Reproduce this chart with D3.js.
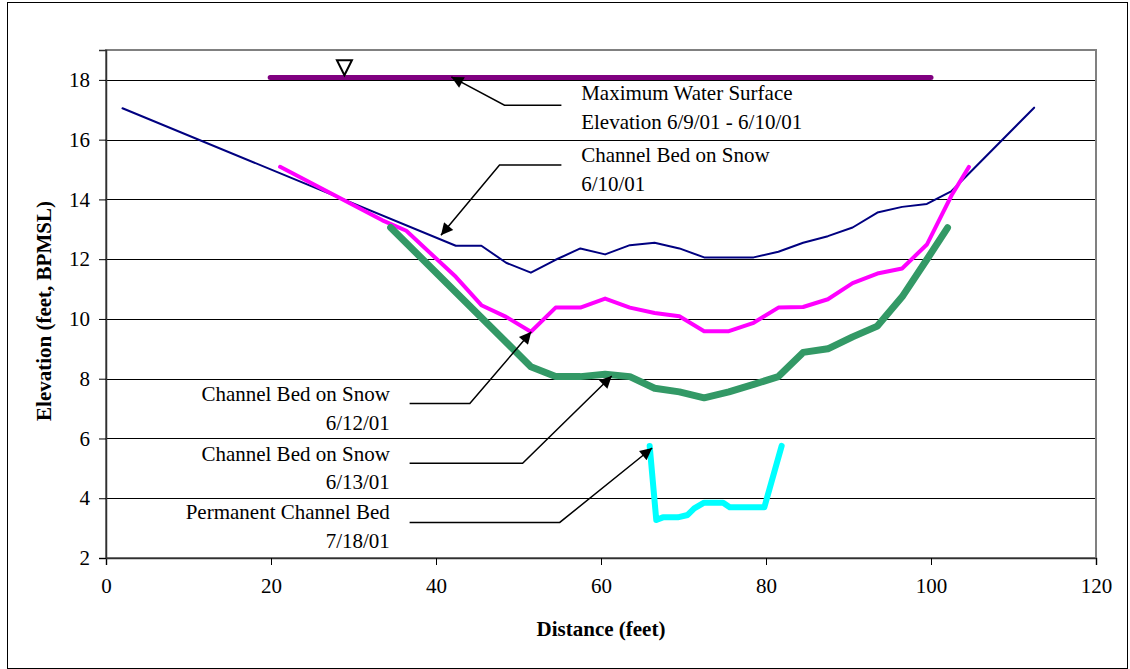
<!DOCTYPE html>
<html>
<head>
<meta charset="utf-8">
<script src="https://cdn.jsdelivr.net/npm/d3@7"></script>
<style>
  body { margin: 0; background: #fff; }
  svg { display: block; font-family: "Liberation Serif", "Times New Roman", serif; }
</style>
</head>
<body>
<div id="chart"></div>
<script>
// channel cross section data (distance in feet, elevation in feet BPMSL)
var distSnow0610 = [2, 42.4, 45.5, 48.5, 51.5, 54.5, 57.5, 60.5, 63.5, 66.5, 69.5, 72.5, 75.5, 78.5, 81.5, 84.5, 87.5, 90.5, 93.5, 96.5, 99.5, 102.5, 112.5];
var elevSnow0610 = [17.05, 12.45, 12.45, 11.88, 11.55, 11.98, 12.36, 12.16, 12.47, 12.55, 12.36, 12.06, 12.06, 12.06, 12.25, 12.55, 12.77, 13.06, 13.56, 13.75, 13.85, 14.28, 17.07];

var distSnow0612 = [21.1, 33.5, 36.4, 42.4, 45.5, 48.5, 51.5, 54.5, 57.5, 60.5, 63.5, 66.5, 69.5, 72.5, 75.5, 78.5, 81.5, 84.5, 87.5, 90.5, 93.5, 96.5, 99.5, 102.5, 104.6];
var elevSnow0612 = [15.09, 13.3, 12.95, 11.41, 10.46, 10.07, 9.57, 10.38, 10.38, 10.68, 10.38, 10.2, 10.09, 9.59, 9.59, 9.87, 10.38, 10.4, 10.66, 11.2, 11.52, 11.69, 12.49, 14.14, 15.09];

var distSnow0613 = [34.5, 51.5, 54.5, 57.5, 60.5, 63.5, 66.5, 69.5, 72.5, 75.5, 78.5, 81.5, 84.5, 87.5, 90.5, 93.5, 96.5, 99.5, 102];
var elevSnow0613 = [13.06, 8.4, 8.07, 8.07, 8.15, 8.07, 7.68, 7.56, 7.36, 7.56, 7.81, 8.07, 8.88, 9.0, 9.4, 9.76, 10.74, 11.99, 13.05];

var distPermanent = [65.9, 66.7, 67.5, 69.3, 70.5, 71.3, 72.5, 74.8, 75.6, 79.8, 81.9];
var elevPermanent = [5.75, 3.27, 3.36, 3.36, 3.44, 3.66, 3.85, 3.85, 3.7, 3.7, 5.75];

var distWaterSurface = [19.9, 100];
var elevWaterSurface = [18.08, 18.08];

var xTicks = [0, 20, 40, 60, 80, 100, 120];
var yTicks = [2, 4, 6, 8, 10, 12, 14, 16, 18];

// annotation text and leader lines (data coords)
var annoText = [
    ['Maximum Water Surface', 'Elevation 6/9/01 - 6/10/01'],
    ['Channel Bed on Snow', '6/10/01'],
    ['Channel Bed on Snow', '6/12/01'],
    ['Channel Bed on Snow', '6/13/01'],
    ['Permanent Channel Bed', '7/18/01']
];
var annoPos = [[57.6, 17.32, 'start'], [57.6, 15.25, 'start'], [34.4, 7.25, 'end'], [34.4, 5.25, 'end'], [34.4, 3.29, 'end']];
var annoLeader = [
    [[55.2, 17.15], [48.3, 17.15], [41.86, 18.1]],
    [[55.2, 15.15], [47.7, 15.15], [40.6, 12.8]],
    [[36.8, 7.17], [44.1, 7.17], [51.55, 9.57]],
    [[36.8, 5.17], [50.5, 5.17], [61.3, 8.09]],
    [[36.8, 3.19], [55.0, 3.19], [66.2, 5.68]]
];
var wsMarker = [28.9, 18.12];

var W = 1130, H = 669;
var margin = {top: 50, right: 34, bottom: 111, left: 106};
var width = W - margin.left - margin.right,
    height = H - margin.top - margin.bottom;
var font = '"Liberation Serif", "Times New Roman", serif';

var svg = d3.select('#chart').append('svg')
    .attr('width', W)
    .attr('height', H)
    .style('font-family', font);

svg.append('rect')
    .attr('x', 7.5).attr('y', 2.5)
    .attr('width', 1120).attr('height', 666)
    .attr('fill', '#fff')
    .attr('stroke', '#000')
    .attr('stroke-width', 1);

svg.append('defs').append('marker')
    .attr('id', 'arrow')
    .attr('markerUnits', 'userSpaceOnUse')
    .attr('viewBox', '0 0 10 10')
    .attr('refX', 10).attr('refY', 5)
    .attr('markerWidth', 16).attr('markerHeight', 12)
    .attr('orient', 'auto')
  .append('path')
    .attr('d', 'M0,0L10,5L0,10z')
    .attr('fill', '#000');

var x = d3.scaleLinear().domain([0, 120]).range([0, width]);
var y = d3.scaleLinear().domain([2, 19]).range([height, 0]);

var g = svg.append('g')
    .attr('transform', 'translate(' + margin.left + ',' + margin.top + ')');

// gridlines
g.append('g').selectAll('line')
    .data(yTicks.filter(d => d > 2))
    .enter().append('line')
    .attr('x1', 0).attr('x2', width)
    .attr('y1', d => Math.round(y(d)) + 0.5)
    .attr('y2', d => Math.round(y(d)) + 0.5)
    .attr('stroke', '#000')
    .attr('stroke-width', 1);

// plot area border
g.append('rect')
    .attr('width', width).attr('height', height)
    .attr('fill', 'none')
    .attr('stroke', '#808080')
    .attr('stroke-width', 2);

// axes
var xAxis = g.append('g')
    .attr('transform', 'translate(0,' + height + ')')
    .call(d3.axisBottom(x).tickValues(xTicks).tickSize(7).tickPadding(13).tickFormat(d3.format('d')));
var yAxis = g.append('g')
    .call(d3.axisLeft(y).tickValues(yTicks).tickSize(7).tickPadding(9).tickFormat(d3.format('d')));

[xAxis, yAxis].forEach(a => {
    a.attr('font-family', font).attr('font-size', 21);
    a.select('.domain').attr('stroke', '#303030').attr('stroke-width', 1.5);
    a.selectAll('.tick line').attr('stroke', '#000');
    a.selectAll('.tick text').attr('fill', '#000');
});

var line = d3.line()
    .x(d => x(d[0]))
    .y(d => y(d[1]));

function pairs(xs, ys) { return xs.map((d, i) => [d, ys[i]]); }

var series = [
    {data: pairs(distSnow0610, elevSnow0610), color: '#000080', w: 2},
    {data: pairs(distSnow0612, elevSnow0612), color: '#ff00ff', w: 4},
    {data: pairs(distSnow0613, elevSnow0613), color: '#339966', w: 7},
    {data: pairs(distPermanent, elevPermanent), color: '#00ffff', w: 6},
    {data: pairs(distWaterSurface, elevWaterSurface), color: '#800080', w: 5}
];

g.selectAll('.series')
    .data(series)
    .enter().append('path')
    .attr('class', 'series')
    .attr('fill', 'none')
    .attr('stroke', d => d.color)
    .attr('stroke-width', d => d.w)
    .attr('stroke-linejoin', 'round')
    .attr('stroke-linecap', 'round')
    .attr('d', d => line(d.data));

// water surface symbol
var mx = x(wsMarker[0]), my = y(wsMarker[1]);
g.append('path')
    .attr('d', 'M' + (mx - 7.5) + ',' + (my - 16) + 'L' + (mx + 7.5) + ',' + (my - 16) + 'L' + mx + ',' + (my - 1) + 'Z')
    .attr('fill', '#fff')
    .attr('stroke', '#000')
    .attr('stroke-width', 2)
    .attr('stroke-linejoin', 'miter');

// annotations
var anno = g.selectAll('.anno')
    .data(annoText)
    .enter().append('g')
    .attr('class', 'anno');

anno.append('path')
    .attr('d', (d, i) => line(annoLeader[i]))
    .attr('fill', 'none')
    .attr('stroke', '#000')
    .attr('stroke-width', 1.5)
    .attr('marker-end', 'url(#arrow)');

anno.append('text')
    .attr('x', (d, i) => x(annoPos[i][0]))
    .attr('y', (d, i) => y(annoPos[i][1]))
    .attr('text-anchor', (d, i) => annoPos[i][2])
    .style('font-size', '21px')
    .selectAll('tspan')
    .data(d => d)
    .enter().append('tspan')
    .attr('x', function() { return this.parentNode.getAttribute('x'); })
    .attr('dy', (d, i) => i ? 28.5 : 0)
    .text(d => d);

// axis titles
svg.append('text')
    .attr('x', margin.left + width / 2)
    .attr('y', 636)
    .attr('text-anchor', 'middle')
    .style('font-size', '21px')
    .style('font-weight', 'bold')
    .text('Distance (feet)');

svg.append('text')
    .attr('transform', 'translate(51,' + 311 + ') rotate(-90)')
    .attr('text-anchor', 'middle')
    .style('font-size', '21px')
    .style('font-weight', 'bold')
    .text('Elevation (feet, BPMSL)');
</script>
</body>
</html>
